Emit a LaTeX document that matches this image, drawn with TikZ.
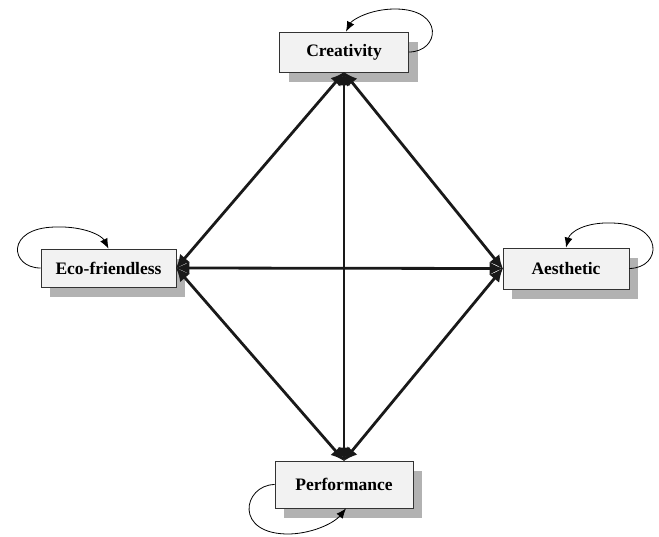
\documentclass[tikz,border=0pt]{standalone}
\usepackage{fontspec}
\setmainfont{Liberation Serif}
\usetikzlibrary{arrows.meta,shadows}
\begin{document}
\begin{tikzpicture}[x=1pt,y=-1pt,
  box/.style={draw=black!80,line width=0.8pt,fill=black!5,font=\bfseries\fontsize{17.5}{20}\selectfont,
    inner sep=0pt,drop shadow={shadow xshift=9pt,shadow yshift=-10pt,fill=black!30,opacity=1}},
  link/.style={line width=2.8pt,black!90,{Latex[length=14pt,width=13pt]}-{Latex[length=14pt,width=13pt]},shorten <=-1pt,shorten >=-1pt},
  loop/.style={line width=0.8pt,-{Latex[length=10pt,width=8pt]}}]
\useasboundingbox (0,0) rectangle (659,536);
\node[box,minimum width=129pt,minimum height=40pt] (C) at (344,52) {Creativity};
\node[box,minimum width=135pt,minimum height=38pt] (E) at (108.5,268) {Eco-friendless};
\node[box,minimum width=126pt,minimum height=41pt] (A) at (566,268.5) {Aesthetic};
\node[box,minimum width=138pt,minimum height=47pt] (P) at (344,484.5) {Performance};
\draw[link] (C.south) -- (E.east);
\draw[link] (C.south) -- (A.west);
\draw[link] (C.south) -- (P.north);
\draw[link] (E.east) -- (A.west);
\draw[link] (P.north) -- (E.east);
\draw[link] (P.north) -- (A.west);
\draw[loop] (C.east) .. controls (440,52) and (445,9) .. (395,9) .. controls (370,9) and (352,20) .. ([xshift=2pt]C.north);
\draw[loop] (E.west) .. controls (10,268) and (5,228) .. (55,227) .. controls (85,226) and (102,236) .. (E.north);
\draw[loop] (A.east) .. controls (662,268) and (665,224) .. (612,223) .. controls (585,222) and (570,232) .. (A.north);
\draw[loop] (P.west) .. controls (243,485) and (233,535) .. (290,534) .. controls (315,533) and (335,522) .. ([xshift=2pt]P.south);
\end{tikzpicture}
\end{document}
